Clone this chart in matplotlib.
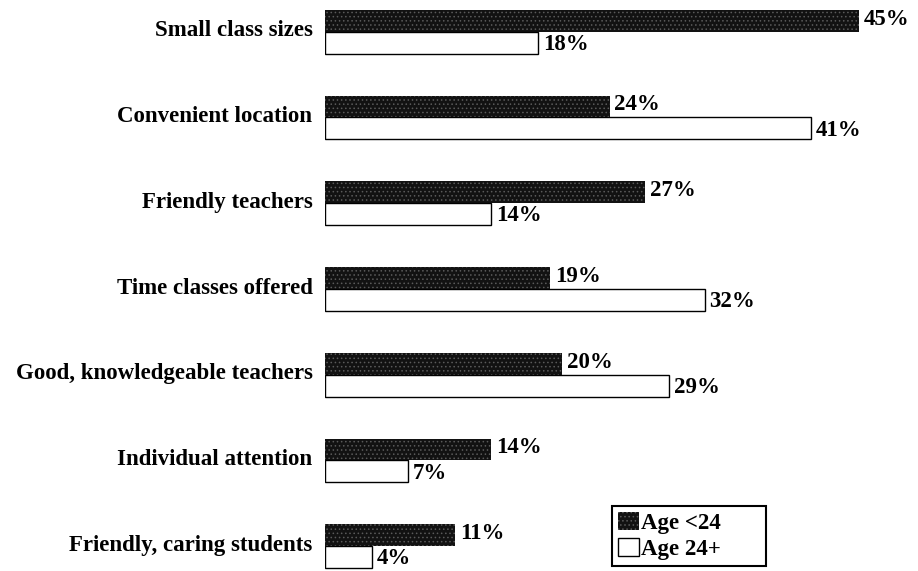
import matplotlib
matplotlib.use("Agg")
import matplotlib.pyplot as plt
from matplotlib.patches import Patch

plt.rcParams['font.family'] = ['Liberation Serif', 'DejaVu Serif']
plt.rcParams['font.weight'] = 'bold'
plt.rcParams['hatch.linewidth'] = 0.6

categories = ["Small class sizes", "Convenient location", "Friendly teachers",
              "Time classes offered", "Good, knowledgeable teachers",
              "Individual attention", "Friendly, caring students"]
under_24 = [45, 24, 27, 19, 20, 14, 11]
over_24 = [18, 41, 14, 32, 29, 7, 4]
series_names = ["Age <24", "Age 24+"]

dark = '#121212'
speckle = '#5a5a5a'
h = 0.255
fs = 16.5

fig = plt.figure(figsize=(9.18, 5.71), dpi=100)
ax = fig.add_axes([0.354, 0.0, 0.646, 1.0])

y = list(range(len(categories)))
ax.barh([v - h / 2 for v in y], under_24, height=h, color=dark,
        edgecolor=speckle, hatch='....', linewidth=0)
ax.barh([v + h / 2 for v in y], over_24, height=h, color='white',
        edgecolor='black', linewidth=1.0)

for i in y:
    ax.text(under_24[i] + 0.4, i - h / 2 - 0.02, "%d%%" % under_24[i],
            va='center', ha='left', fontsize=fs)
    ax.text(over_24[i] + 0.4, i + h / 2 + 0.02, "%d%%" % over_24[i],
            va='center', ha='left', fontsize=fs)

ax.set_xlim(0, 50)
ax.set_ylim(6.29, -0.37)
ax.set_yticks([v - 0.04 for v in y])
ax.set_yticklabels(categories, fontsize=fs)
ax.tick_params(axis='y', length=0, pad=9)
ax.set_xticks([])
for s in ax.spines.values():
    s.set_visible(False)

handles = [Patch(facecolor=dark, edgecolor=speckle, hatch='....', linewidth=0),
           Patch(facecolor='white', edgecolor='black', linewidth=1.0)]
leg = fig.legend(handles, series_names, loc='lower left',
                 bbox_to_anchor=(0.667, 0.009, 0.167, 0.112), mode='expand',
                 fontsize=fs, fancybox=False, handlelength=0.9, handleheight=0.8,
                 handletextpad=0.1, borderpad=0.25, labelspacing=0.2,
                 borderaxespad=0, framealpha=1)
leg.get_frame().set_edgecolor('black')
leg.get_frame().set_linewidth(1.5)

fig.savefig("out.png", dpi=100)
